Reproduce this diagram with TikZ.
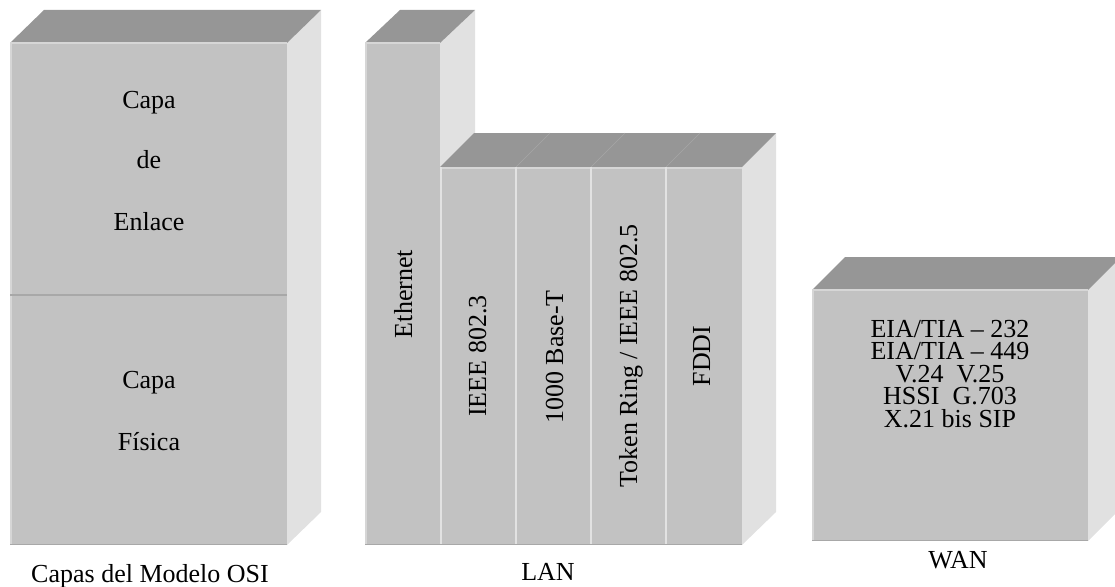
\documentclass[tikz,border=0pt]{standalone}
\usepackage{fontspec}
\setmainfont{Liberation Serif}
\definecolor{facefront}{HTML}{C2C2C2}
\definecolor{facetop}{HTML}{969696}
\definecolor{faceside}{HTML}{E1E1E1}
\definecolor{edgelight}{HTML}{D6D6D6}
\definecolor{edgedark}{HTML}{A8A8A8}
\begin{document}
\begin{tikzpicture}[x=1pt,y=-1pt,
  front/.style={fill=facefront},
  topface/.style={fill=facetop},
  sideface/.style={fill=faceside},
  lightedge/.style={draw=edgelight,line width=1.5pt},
  darkedge/.style={draw=edgedark,line width=1.5pt},
  txt/.style={font=\fontsize{26}{26}\selectfont,inner sep=0pt,anchor=base},
  vtxt/.style={txt,rotate=90}]
\useasboundingbox (0,0) rectangle (1115,586);
\clip (0,0) rectangle (1115,586);

% --- OSI block ---
\fill[sideface] (287,43) -- (321,10) -- (321,512) -- (287,545) -- cycle;
\fill[topface] (10,43) -- (44,10) -- (321,10) -- (287,43) -- cycle;
\fill[front] (10,43) rectangle (287,545);
\draw[lightedge] (10.75,545) -- (10.75,43) -- (287,43);
\draw[darkedge] (10,544.25) -- (287,544.25);
\draw[draw=edgedark,line width=1.2pt] (10,295) -- (287,295);

% --- Ethernet column ---
\fill[sideface] (440,43) -- (475,10) -- (475,512) -- (440,545) -- cycle;
\fill[topface] (365,43) -- (400,10) -- (475,10) -- (440,43) -- cycle;
\fill[front] (365,43) rectangle (440,545);
\draw[lightedge] (365.75,545) -- (365.75,43) -- (440,43);

% --- LAN lower block ---
\fill[sideface] (742,167) -- (776,133) -- (776,512) -- (742,545) -- cycle;
\fill[topface] (440,167) -- (474,133) -- (776,133) -- (742,167) -- cycle;
\draw[draw=facetop!85!white,line width=0.6pt]
  (516,167) -- (550,133) (591,167) -- (625,133) (666,167) -- (700,133);
\fill[front] (440,167) rectangle (742,545);
\draw[lightedge] (440,167.75) -- (742,167.75);
\draw[draw=edgelight!70!white,line width=2pt]
  (441,167) -- (441,545) (516,167) -- (516,545)
  (591,167) -- (591,545) (666,167) -- (666,545);
\draw[darkedge] (365,544.25) -- (742,544.25);

% --- WAN block ---
\fill[sideface] (1088,290) -- (1121,257) -- (1121,508) -- (1088,541) -- cycle;
\fill[topface] (812,290) -- (845,257) -- (1121,257) -- (1088,290) -- cycle;
\fill[front] (812,290) rectangle (1088,541);
\draw[lightedge] (812.75,541) -- (812.75,290) -- (1088,290);
\draw[darkedge] (812,540.25) -- (1088,540.25);

% --- OSI texts ---
\node[txt] (enl1) at (149,108) {Capa};
\node[txt] (enl2) at (149,168) {de};
\node[txt] (enl3) at (149,230) {Enlace};
\node[txt] (fis1) at (149,388) {Capa};
\node[txt] (fis2) at (149,450) {Física};
\node[txt] (osi) at (150,582) {Capas del Modelo OSI};

% --- LAN texts ---
\node[vtxt] (eth) at (412,294) {Ethernet};
\node[vtxt] (ieee3) at (486,356) {IEEE 802.3};
\node[vtxt] (base) at (563,357) {1000 Base-T};
\node[vtxt] (token) at (637,356) {Token Ring / IEEE 802.5};
\node[vtxt] (fddi) at (710,356) {FDDI};
\node[txt] (lan) at (548,580) {LAN};

% --- WAN texts ---
\node[txt] (w1) at (950,337) {EIA/TIA – 232};
\node[txt] (w2) at (950,359.5) {EIA/TIA – 449};
\node[txt] (w3) at (950,382) {V.24\ \ V.25};
\node[txt] (w4) at (950,404.5) {HSSI\ \ G.703};
\node[txt] (w5) at (950,427) {X.21 bis SIP};
\node[txt] (wan) at (958,568) {WAN};
\end{tikzpicture}
\end{document}
